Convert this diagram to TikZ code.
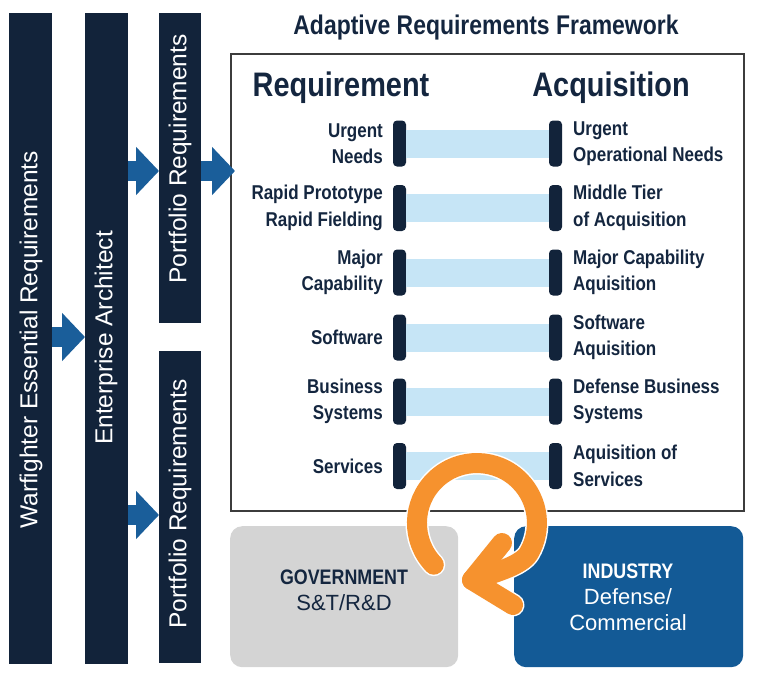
\documentclass[tikz,border=0pt]{standalone}
\usepackage{fontspec}
\setmainfont{Liberation Sans}
\newfontfamily\cnd[FakeStretch=0.85]{Liberation Sans}
\usetikzlibrary{arrows.meta}
\definecolor{navy}{HTML}{12233A}
\definecolor{arrowblue}{HTML}{1A5E9A}
\definecolor{band}{HTML}{C6E5F6}
\definecolor{orng}{HTML}{F6922E}
\definecolor{govgrey}{HTML}{D4D4D4}
\definecolor{indblue}{HTML}{135A96}
\definecolor{txt}{HTML}{14263F}
\definecolor{framecol}{HTML}{3C3C3C}
\begin{document}
\begin{tikzpicture}[x=1pt,y=-1pt,
  vbar/.style={fill=navy,draw=none,inner sep=0pt,anchor=north west},
  vtext/.style={rotate=90,text=white,inner sep=0pt,font=\fontsize{24.5}{28}\selectfont},
  barrow/.style={draw=arrowblue,line width=20pt,-{Triangle[width=47pt,length=23pt]}},
  rowbar/.style={fill=navy,draw=none,minimum width=13pt,minimum height=46pt,inner sep=0pt,rounded corners=4pt},
  bandline/.style={draw=band,line width=28pt},
  lab/.style={text=txt,inner sep=0pt,font=\cnd\bfseries\fontsize{20}{26.5}\selectfont},
  boxtext/.style={align=center,inner sep=0pt,font=\fontsize{22}{26}\selectfont},
  ring/.style={draw=orng,line width=20pt,line cap=round,line join=round},
  ringedge/.style={draw=white,line width=23pt,line cap=round,line join=round}]
\useasboundingbox (0,0) rectangle (766,675);

% vertical bars
\node[vbar,minimum width=43pt,minimum height=651pt] (bar1) at (9,13) {};
\node[vbar,minimum width=43pt,minimum height=651pt] (bar2) at (85,13) {};
\node[vbar,minimum width=42pt,minimum height=310pt] (bar3) at (159,13) {};
\node[vbar,minimum width=42pt,minimum height=312pt] (bar4) at (159,351) {};
\node[vtext] (t1) at (31,340) {Warfighter Essential Requirements};
\node[vtext] (t2) at (106,338) {Enterprise Architect};
\node[vtext] (t3) at (180,159) {Portfolio Requirements};
\node[vtext] (t4) at (180,504) {Portfolio Requirements};

% frame
\node[draw=framecol,line width=1.5pt,inner sep=0pt,minimum width=513pt,minimum height=457pt,anchor=north west] (frame) at (230,53) {};

% arrows
\coordinate (ya) at (0,337);
\coordinate (yb) at (0,171);
\coordinate (yc) at (0,515);
\coordinate (fa) at (235,171);
\draw[barrow] (bar1.east |- ya) -- (bar2.west |- ya);
\draw[barrow] (bar2.east |- yb) -- (bar3.west |- yb);
\draw[barrow] (bar3.east |- yb) -- (fa);
\draw[barrow] (bar2.east |- yc) -- (bar4.west |- yc);

% titles
\node[text=txt,inner sep=0pt,font=\cnd\bfseries\fontsize{27}{30}\selectfont] (title) at (486,28) {Adaptive Requirements Framework};
\node[text=txt,inner sep=0pt,font=\cnd\bfseries\fontsize{34}{38}\selectfont] (hreq) at (341,88) {Requirement};
\node[text=txt,inner sep=0pt,font=\cnd\bfseries\fontsize{34}{38}\selectfont] (hacq) at (611,88) {Acquisition};

% rows
\foreach \i/\yy/\lt/\rt in {
  1/143.5/{Urgent\\Needs}/{Urgent\\Operational Needs},
  2/208/{Rapid Prototype\\Rapid Fielding}/{Middle Tier\\of Acquisition},
  3/272.5/{Major\\Capability}/{Major Capability\\Aquisition},
  4/337.5/{Software}/{Software\\Aquisition},
  5/401.5/{Business\\Systems}/{Defense Business\\Systems},
  6/466/{Services}/{Aquisition of\\Services}}{
  \node[rowbar] (lb\i) at (399.5,\yy) {};
  \node[rowbar] (rb\i) at (555.5,\yy) {};
  \draw[bandline] (lb\i) -- (rb\i);
  \node[lab,anchor=east,align=right] (ll\i) at (383,\yy) {\lt};
  \node[lab,anchor=west,align=left] (rl\i) at (573,\yy) {\rt};
}

% bottom boxes
\node[fill=govgrey,draw=none,rounded corners=12pt,inner sep=0pt,minimum width=228pt,minimum height=141pt,anchor=north west] (gov) at (230,526) {};
\node[fill=indblue,draw=none,rounded corners=12pt,inner sep=0pt,minimum width=229pt,minimum height=141pt,anchor=north west] (ind) at (514,526) {};
\node[boxtext,text=txt] (govtext) at (344,590)
  {{\cnd\bfseries\fontsize{21}{26}\selectfont GOVERNMENT}\\S\&T/R\&D};
\node[boxtext,text=white] (indtext) at (628,597)
  {{\cnd\bfseries\fontsize{21}{26}\selectfont INDUSTRY}\\Defense/\\Commercial};

% orange cycle arrow
\coordinate (rs) at (433.8,564.7);
\coordinate (tip) at (472,580);
\coordinate (ua) at (502,543);
\coordinate (la) at (513,605);
\draw[ringedge] (rs) arc[start angle=136,end angle=390,radius=60] .. controls (521.5,566) and (491,574) .. (tip);
\draw[ringedge] (ua) -- (tip) -- (la);
\draw[ring] (rs) arc[start angle=136,end angle=390,radius=60] .. controls (521.5,566) and (491,574) .. (tip);
\draw[ring] (ua) -- (tip) -- (la);
\end{tikzpicture}
\end{document}
